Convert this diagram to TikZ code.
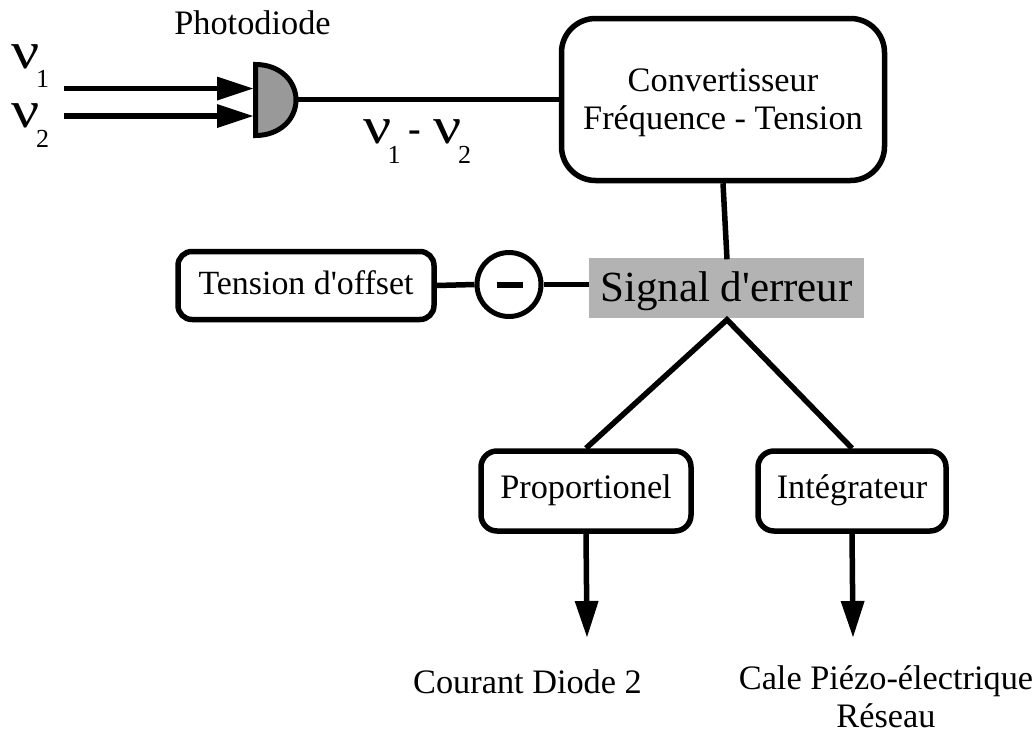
\documentclass[tikz,border=0pt]{standalone}
\usepackage{fontspec}
\usepackage{graphicx}
\setmainfont{Liberation Serif}
\newfontfamily\plainserif{Liberation Serif}
\usetikzlibrary{arrows.meta,calc,shapes.geometric}
\definecolor{diodegrey}{HTML}{999999}
\definecolor{signalgrey}{HTML}{B3B3B3}
\newcommand{\fpx}[1]{\fontsize{#1pt}{#1pt}\selectfont}
\newcommand{\widenu}{\scalebox{1.2}[1]{ν}}
\tikzset{
  x=1pt,y=-1pt,
  roundbox/.style={draw=black,line width=5.5pt,fill=white,rectangle,rounded corners=#1,inner sep=0pt,align=center},
  wire/.style={draw=black,line width=5.5pt},
  arrowwire/.style={wire,-{Triangle[length=36pt,width=24pt,line width=0pt]}},
  textlabel/.style={inner sep=0pt,anchor=base,font=\fpx{34.3}},
  nulabel/.style={inner sep=0pt,anchor=base,font=\fpx{52}},
  sublabel/.style={inner sep=0pt,anchor=base,font=\fpx{26}},
}
\begin{document}
\begin{tikzpicture}
\useasboundingbox (0,0) rectangle (1035,731);
% photodiode
\draw[line width=5pt,fill=diodegrey,line join=miter] (255.5,64.5) .. controls (280,64.5) and (296,81) .. (296,100) .. controls (296,119) and (280,135.5) .. (255.5,135.5) -- cycle;
\coordinate (pdout) at (297,99.5);
\coordinate (pdin1) at (253,88.5);
\coordinate (pdin2) at (253,116);
\coordinate (s1) at (64,88.5);
\coordinate (s2) at (64,116);
\node[textlabel] (phot) at (252.5,34) {Photodiode};
\node[nulabel] (nu1) at (26,68) {\widenu};
\node[sublabel] (n1sub) at (42.5,87) {1};
\node[nulabel] (nu2) at (26,127) {\widenu};
\node[sublabel] (n2sub) at (42.5,147) {2};
\draw[arrowwire] (s1) -- (pdin1);
\draw[arrowwire] (s2) -- (pdin2);
% boxes
\node[roundbox=34pt,minimum width=323pt,minimum height=162pt,font=\fpx{34.3}] (conv) at (723,99.5) {\rule{0pt}{29pt}Convertisseur\\[3.7pt]Fréquence - Tension};
\node[roundbox=14pt,minimum width=256pt,minimum height=68pt,font={\plainserif\fpx{33.9}},text height=25pt,text depth=8pt] (off) at (306,285.5) {Tension d'offset};
\node[draw=black,line width=5pt,circle,minimum size=64pt,inner sep=0pt,fill=white] (minus) at (509,284.5) {};
\draw[line width=5.5pt] ($(minus.center)+(-12.5,0.5)$) -- ($(minus.center)+(13.5,0.5)$);
\node[fill=signalgrey,minimum width=275pt,minimum height=60pt,inner sep=0pt,font={\plainserif\fpx{43}},text height=36pt,text depth=8pt] (sig) at (726.5,287.5) {Signal d'erreur};
\node[roundbox=16pt,minimum width=210pt,minimum height=80pt,font=\fpx{34.3},text height=22pt,text depth=8pt] (prop) at (586,491) {Proportionel};
\node[roundbox=16pt,minimum width=188pt,minimum height=80pt,font=\fpx{34.3},text height=22pt,text depth=8pt] (integ) at (852,491) {Intégrateur};
% wires
\draw[wire] (pdout) -- (pdout -| conv.west);
\node[nulabel] (nu3) at (377.5,143) {\widenu};
\node[sublabel] (n3sub) at (394,163) {1};
\node[inner sep=0pt,anchor=base,font=\bfseries\fpx{38}] (dash) at (415,141) {-};
\node[nulabel] (nu4) at (447.5,143) {\widenu};
\node[sublabel] (n4sub) at (464.5,163) {2};
\draw[wire] (conv.south) -- ($(sig.north)+(0.5,2)$);
\draw[wire] (off.east) -- (minus.west);
\draw[wire] (minus.east) -- (minus.east -| sig.west);
\draw[wire,line join=miter] (prop.north) -- ($(sig.south)+(0.5,2)$) -- (integ.north);
\coordinate (a1) at (587,637);
\coordinate (a2) at (853,637);
\draw[arrowwire] (prop.south) -- (a1);
\draw[arrowwire] (integ.south) -- (a2);
\node[textlabel] (cour) at (527.5,693) {Courant Diode 2};
\node[textlabel] (cale) at (886,689) {Cale Piézo-électrique};
\node[textlabel] (res) at (886,727) {Réseau};
\end{tikzpicture}
\end{document}
